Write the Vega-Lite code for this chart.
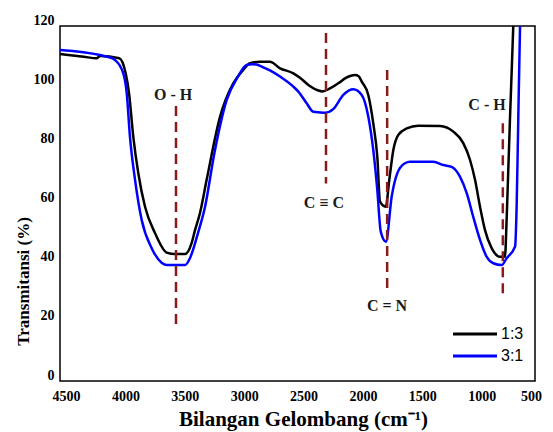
{
  "$schema": "https://vega.github.io/schema/vega-lite/v6.json",
  "width": 475,
  "height": 355,
  "autosize": {"type": "none"},
  "padding": {"left": 60, "top": 26, "right": 18, "bottom": 51},
  "background": "white",
  "config": {"view": {"stroke": "#000000", "strokeWidth": 1.5}},
  "datasets": {
    "spectra": [
      {"s": "1:3", "wn": 4500, "t": 110.5}, {"s": "1:3", "wn": 4300, "t": 109.6}, {"s": "1:3", "wn": 4191, "t": 109.1},
      {"s": "1:3", "wn": 4163, "t": 109.9}, {"s": "1:3", "wn": 4001, "t": 109.1}, {"s": "1:3", "wn": 3947, "t": 104.0},
      {"s": "1:3", "wn": 3919, "t": 97.4}, {"s": "1:3", "wn": 3883, "t": 82.6}, {"s": "1:3", "wn": 3841, "t": 70.3},
      {"s": "1:3", "wn": 3784, "t": 58.9}, {"s": "1:3", "wn": 3700, "t": 50.0}, {"s": "1:3", "wn": 3601, "t": 43.4},
      {"s": "1:3", "wn": 3532, "t": 42.9}, {"s": "1:3", "wn": 3447, "t": 42.9}, {"s": "1:3", "wn": 3391, "t": 46.7},
      {"s": "1:3", "wn": 3363, "t": 51.0}, {"s": "1:3", "wn": 3321, "t": 56.8}, {"s": "1:3", "wn": 3265, "t": 68.0},
      {"s": "1:3", "wn": 3153, "t": 89.2}, {"s": "1:3", "wn": 3041, "t": 100.6}, {"s": "1:3", "wn": 2960, "t": 105.0},
      {"s": "1:3", "wn": 2900, "t": 107.4}, {"s": "1:3", "wn": 2816, "t": 107.9}, {"s": "1:3", "wn": 2732, "t": 107.9},
      {"s": "1:3", "wn": 2647, "t": 105.7}, {"s": "1:3", "wn": 2535, "t": 104.0}, {"s": "1:3", "wn": 2479, "t": 102.5},
      {"s": "1:3", "wn": 2400, "t": 99.8}, {"s": "1:3", "wn": 2325, "t": 98.2}, {"s": "1:3", "wn": 2290, "t": 97.9},
      {"s": "1:3", "wn": 2226, "t": 98.9}, {"s": "1:3", "wn": 2150, "t": 100.8}, {"s": "1:3", "wn": 2100, "t": 102.3},
      {"s": "1:3", "wn": 2050, "t": 103.2}, {"s": "1:3", "wn": 2016, "t": 103.4}, {"s": "1:3", "wn": 1985, "t": 103.0},
      {"s": "1:3", "wn": 1959, "t": 101.2}, {"s": "1:3", "wn": 1904, "t": 96.7}, {"s": "1:3", "wn": 1862, "t": 87.1},
      {"s": "1:3", "wn": 1828, "t": 75.8}, {"s": "1:3", "wn": 1805, "t": 60.6}, {"s": "1:3", "wn": 1757, "t": 58.9},
      {"s": "1:3", "wn": 1727, "t": 68.0}, {"s": "1:3", "wn": 1693, "t": 78.1}, {"s": "1:3", "wn": 1651, "t": 83.2},
      {"s": "1:3", "wn": 1580, "t": 85.4}, {"s": "1:3", "wn": 1483, "t": 86.3}, {"s": "1:3", "wn": 1300, "t": 86.2},
      {"s": "1:3", "wn": 1188, "t": 84.3}, {"s": "1:3", "wn": 1104, "t": 80.4}, {"s": "1:3", "wn": 1047, "t": 74.7},
      {"s": "1:3", "wn": 1005, "t": 68.0}, {"s": "1:3", "wn": 963, "t": 58.9}, {"s": "1:3", "wn": 921, "t": 51.0},
      {"s": "1:3", "wn": 865, "t": 44.9}, {"s": "1:3", "wn": 795, "t": 42.0}, {"s": "1:3", "wn": 753, "t": 42.0},
      {"s": "1:3", "wn": 739, "t": 54.4}, {"s": "1:3", "wn": 725, "t": 71.3}, {"s": "1:3", "wn": 711, "t": 88.2},
      {"s": "1:3", "wn": 696, "t": 105.1}, {"s": "1:3", "wn": 683, "t": 120.0}, {"s": "1:3", "wn": 670, "t": 135.0},
      {"s": "3:1", "wn": 4500, "t": 111.9}, {"s": "3:1", "wn": 4163, "t": 110.2}, {"s": "3:1", "wn": 4100, "t": 109.6},
      {"s": "3:1", "wn": 4037, "t": 108.5}, {"s": "3:1", "wn": 3967, "t": 104.0}, {"s": "3:1", "wn": 3938, "t": 97.3},
      {"s": "3:1", "wn": 3911, "t": 82.6}, {"s": "3:1", "wn": 3868, "t": 68.0}, {"s": "3:1", "wn": 3812, "t": 54.4},
      {"s": "3:1", "wn": 3728, "t": 44.9}, {"s": "3:1", "wn": 3644, "t": 40.0}, {"s": "3:1", "wn": 3600, "t": 39.2},
      {"s": "3:1", "wn": 3447, "t": 39.2}, {"s": "3:1", "wn": 3405, "t": 41.6}, {"s": "3:1", "wn": 3338, "t": 50.0},
      {"s": "3:1", "wn": 3279, "t": 58.8}, {"s": "3:1", "wn": 3200, "t": 77.0}, {"s": "3:1", "wn": 3096, "t": 95.0},
      {"s": "3:1", "wn": 3000, "t": 103.0}, {"s": "3:1", "wn": 2928, "t": 106.8}, {"s": "3:1", "wn": 2886, "t": 107.1},
      {"s": "3:1", "wn": 2844, "t": 107.0}, {"s": "3:1", "wn": 2816, "t": 106.5}, {"s": "3:1", "wn": 2732, "t": 105.0},
      {"s": "3:1", "wn": 2647, "t": 102.9}, {"s": "3:1", "wn": 2535, "t": 99.5}, {"s": "3:1", "wn": 2493, "t": 97.8},
      {"s": "3:1", "wn": 2423, "t": 93.9}, {"s": "3:1", "wn": 2367, "t": 91.0}, {"s": "3:1", "wn": 2311, "t": 90.8},
      {"s": "3:1", "wn": 2268, "t": 90.7}, {"s": "3:1", "wn": 2199, "t": 91.9}, {"s": "3:1", "wn": 2114, "t": 96.7},
      {"s": "3:1", "wn": 2030, "t": 98.6}, {"s": "3:1", "wn": 1959, "t": 96.7}, {"s": "3:1", "wn": 1904, "t": 89.4},
      {"s": "3:1", "wn": 1862, "t": 78.1}, {"s": "3:1", "wn": 1828, "t": 64.6}, {"s": "3:1", "wn": 1799, "t": 50.5},
      {"s": "3:1", "wn": 1755, "t": 47.1}, {"s": "3:1", "wn": 1707, "t": 62.3}, {"s": "3:1", "wn": 1660, "t": 70.2},
      {"s": "3:1", "wn": 1595, "t": 73.6}, {"s": "3:1", "wn": 1553, "t": 74.1}, {"s": "3:1", "wn": 1356, "t": 74.1},
      {"s": "3:1", "wn": 1272, "t": 73.0}, {"s": "3:1", "wn": 1202, "t": 72.4}, {"s": "3:1", "wn": 1132, "t": 69.1},
      {"s": "3:1", "wn": 1075, "t": 63.5}, {"s": "3:1", "wn": 1020, "t": 55.5}, {"s": "3:1", "wn": 963, "t": 47.7},
      {"s": "3:1", "wn": 907, "t": 42.0}, {"s": "3:1", "wn": 851, "t": 39.8}, {"s": "3:1", "wn": 780, "t": 39.2},
      {"s": "3:1", "wn": 739, "t": 41.5}, {"s": "3:1", "wn": 668, "t": 45.4}, {"s": "3:1", "wn": 654, "t": 60.1},
      {"s": "3:1", "wn": 641, "t": 88.2}, {"s": "3:1", "wn": 626, "t": 119.8}, {"s": "3:1", "wn": 615, "t": 135.0}
    ],
    "bands": [
      {"wn": 3523, "t": 93.0, "t2": 19.3},
      {"wn": 2260, "t": 117.6, "t2": 66.8},
      {"wn": 1745, "t": 105.1, "t2": 31.0},
      {"wn": 771, "t": 87.1, "t2": 28.5}
    ],
    "labels": [
      {"wn": 3548, "t": 96.7, "label": "O - H"},
      {"wn": 2277, "t": 60.2, "label": "C ≡ C"},
      {"wn": 1746, "t": 25.4, "label": "C = N"},
      {"wn": 904, "t": 93.3, "label": "C - H"}
    ]
  },
  "encoding": {
    "x": {
      "field": "wn",
      "type": "quantitative",
      "scale": {"domain": [500, 4500], "reverse": true, "nice": false, "zero": false},
      "axis": {
        "values": [4500, 4000, 3500, 3000, 2500, 2000, 1500, 1000, 500],
        "format": "d",
        "ticks": false,
        "domain": false,
        "grid": false,
        "labelFlush": false,
        "labelOverlap": false,
        "labelFont": "Liberation Serif",
        "labelFontWeight": "bold",
        "labelFontSize": 14,
        "labelColor": "#000000",
        "labelPadding": 8,
        "labelOffset": {"condition": {"test": "datum.value == 500", "value": -4}, "value": 6},
        "title": "Bilangan Gelombang (cm⁻¹)",
        "titleFont": "Liberation Serif",
        "titleFontWeight": "bold",
        "titleFontSize": 21,
        "titleColor": "#000000",
        "titleX": 243,
        "titleY": 38,
        "titleBaseline": "middle"
      }
    },
    "y": {
      "field": "t",
      "type": "quantitative",
      "scale": {"domain": [0, 120], "nice": false},
      "axis": {
        "values": [0, 20, 40, 60, 80, 100, 120],
        "ticks": false,
        "domain": false,
        "grid": false,
        "labelFlush": false,
        "labelOverlap": false,
        "labelFont": "Liberation Serif",
        "labelFontWeight": "bold",
        "labelFontSize": 14,
        "labelColor": "#000000",
        "labelPadding": 6,
        "labelOffset": -6,
        "title": "Transmitansi (%)",
        "titleFont": "Liberation Serif",
        "titleFontWeight": "bold",
        "titleFontSize": 17,
        "titleColor": "#000000",
        "titleX": -37,
        "titleY": 255,
        "titleBaseline": "middle"
      }
    }
  },
  "layer": [
    {
      "data": {"name": "spectra"},
      "mark": {"type": "line", "strokeWidth": 2.5, "clip": true, "interpolate": "monotone"},
      "encoding": {
        "color": {
          "field": "s",
          "type": "nominal",
          "scale": {"domain": ["1:3", "3:1"], "range": ["#000000", "#0000ff"]},
          "legend": {
            "orient": "none",
            "legendX": 407,
            "legendY": 300,
            "title": null,
            "padding": 0,
            "rowPadding": 6,
            "symbolType": "M-4,0H4",
            "symbolSize": 121,
            "symbolStrokeWidth": 3,
            "labelFont": "Liberation Sans",
            "labelFontSize": 16,
            "labelColor": "#000000",
            "labelOffset": 18
          }
        }
      }
    },
    {
      "data": {"name": "bands"},
      "mark": {"type": "rule", "color": "#8b1a1a", "strokeWidth": 2.5, "strokeDash": [10, 6]},
      "encoding": {"y2": {"field": "t2"}}
    },
    {
      "data": {"name": "labels"},
      "mark": {"type": "text", "font": "Liberation Serif", "fontWeight": "bold", "fontSize": 16, "color": "#1a1a1a", "align": "center", "baseline": "middle"},
      "encoding": {"text": {"field": "label", "type": "nominal"}}
    }
  ]
}
